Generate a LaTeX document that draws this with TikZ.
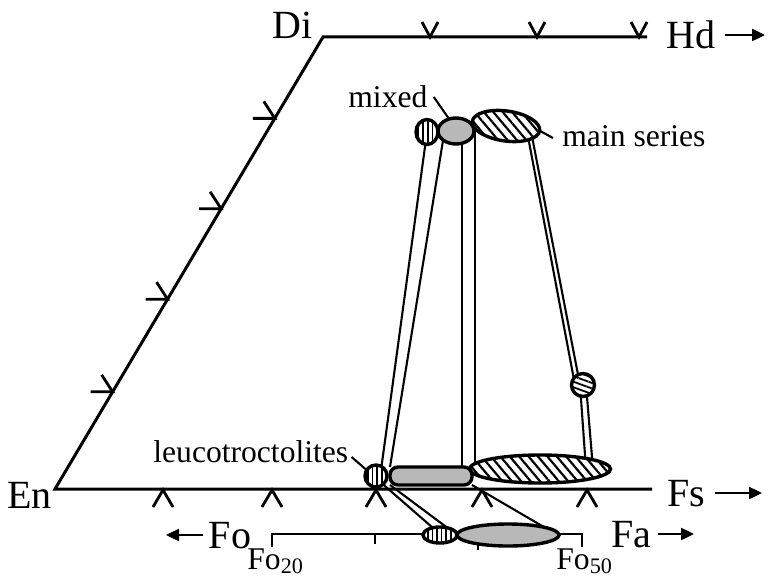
\documentclass[tikz,border=0pt]{standalone}
\usepackage{fontspec}
\setmainfont{Liberation Serif}
\usetikzlibrary{arrows.meta,patterns.meta,calc,shapes.geometric}
\pgfdeclarelayer{back}
\pgfsetlayers{back,main}
\begin{document}
\begin{tikzpicture}[x=0.5pt,y=-0.5pt,
  big/.style={font=\fontsize{20}{22}\selectfont, inner sep=0pt, text depth=0pt},
  lbl/.style={font=\fontsize{15.8}{18}\selectfont, inner sep=0pt},
  edge/.style={line width=1.5pt, line join=miter},
  tk/.style={line width=1.4pt, line join=miter, line cap=butt},
  tie/.style={line width=1.05pt},
  arr/.style={line width=1.2pt, -{Triangle[length=6.5pt,width=6pt]}},
  shp/.style={draw, line width=1.7pt, inner sep=0pt, outer sep=0pt, preaction={fill=white}},
  vst/.style={shp, ellipse, pattern={Lines[angle=90,distance=2.3pt,line width=0.8pt]}},
  hst/.style={shp, ellipse, pattern={Lines[angle=-20,distance=2.6pt,line width=0.9pt]}},
  hatch/.style={shp, ellipse, pattern={Lines[angle=-50,distance=3.6pt,line width=1.1pt]}},
  stip/.style={shp, fill=black!28},
]
\useasboundingbox (0,0) rectangle (770,577);

% frame
\coordinate (DiC) at (323,37);
\coordinate (HdE) at (647,37);
\coordinate (EnC) at (55,489);
\coordinate (FsE) at (652,489);
\draw[edge] (HdE) -- (DiC) -- (EnC) -- (FsE);

% ticks
\foreach \x in {430,537,639} \draw[tk] ({\x-8},22) -- (\x,37) -- ({\x+8},22);
\foreach \x in {163,272,376,482,587} \draw[tk] ({\x-10},507) -- (\x,490) -- ({\x+10},507);
\foreach \t in {0.18,0.38,0.58,0.785}
  \draw[tk] ($(DiC)!\t!(EnC)+(-22,0)$) -- ($(DiC)!\t!(EnC)$) -- ($(DiC)!\t!(EnC)+(-11,-17)$);

% labels
\node[big, anchor=east] (Di) at (313,25) {Di};
\node[big] (Hd) at (691,35) {Hd};
\node[big, anchor=east] (En) at (52,495) {En};
\node[big] (Fs) at (686,493) {Fs};
\node[big] (Fo) at (230,535) {Fo};
\node[big] (Fa) at (631,534) {Fa};
\node[lbl, anchor=base west] (Fo20) at (247,569) {Fo\textsubscript{20}};
\node[lbl, anchor=base west] (Fo50) at (556,569) {Fo\textsubscript{50}};
\coordinate (HdT) at (765,35);
\coordinate (FsT) at (762,493);
\coordinate (FaT) at (694,534);
\coordinate (FoT) at (166,535);
\draw[arr] ($(Hd.east)+(9,0)$) -- (HdT);
\draw[arr] ($(Fs.east)+(10,0)$) -- (FsT);
\draw[arr] ($(Fa.east)+(7,0)$) -- (FaT);
\draw[arr] ($(Fo.west)+(-5,0)$) -- (FoT);

\node[lbl, anchor=west] (mixed) at (348,97) {mixed};
\node[lbl, anchor=west] (ms) at (562,136) {main series};
\node[lbl, anchor=west] (leuco) at (153,452) {leucotroctolites};

% scale
\draw[line width=1.2pt] (272,547) -- (272,534) -- (582,534) -- (582,547);
\draw[tie] (375,534) -- (375,544);
\draw[tie] (478,534) -- (478,550);

% shapes
\node[vst, minimum width=11pt, minimum height=12.5pt] (ts) at (427,132) {};
\node[stip, ellipse, minimum width=18pt, minimum height=13pt] (tg) at (456,131) {};
\node[hatch, minimum width=34pt, minimum height=15pt, rotate=-8] (th) at (506,126) {};
\node[hst, minimum width=11.5pt, minimum height=11.5pt] (mc) at (583,385) {};
\node[hatch, minimum width=70.5pt, minimum height=14pt] (bh) at (540,469) {};
\node[stip, rounded corners=4pt, minimum width=41pt, minimum height=9pt] (bg) at (431,476) {};
\node[vst, minimum width=11pt, minimum height=11pt] (bs) at (376,476) {};
\node[vst, minimum width=17pt, minimum height=8pt] (ss) at (440,535) {};
\node[stip, ellipse, minimum width=51pt, minimum height=11pt] (sg) at (508,535) {};

\coordinate (xa) at (462,0);
\coordinate (xb) at (475,0);
\begin{pgfonlayer}{back}
\draw[tie] (ts.center) -- (bs.60);
\draw[tie] (tg.215) -- (bg.north west);
\draw[tie] (tg.center -| xa) -- (bg.center -| xa);
\draw[tie] (th.center -| xb) -- (bh.center -| xb);
\draw[tie] ($(th.center)+(20,0)$) -- ($(mc.center)+(-8,0)$);
\draw[tie] ($(th.center)+(24,0)$) -- ($(mc.center)+(-3,0)$);
\draw[tie] ($(mc.center)+(-3,0)$) -- ($(bh.center)+(46,0)$);
\draw[tie] ($(mc.center)+(3,0)$) -- ($(bh.center)+(53,0)$);
\draw[tie] ($(leuco.east)+(3,5)$) -- (ss.135);
\draw[tie] (bg.south west) -- (sg.west);
\draw[tie] (bg.south east) -- (sg.12);
\draw[tie] ($(mixed.east)+(6,0)$) -- (tg.120);
\draw[tie] (th.east) -- ($(ms.west)+(-9,2)$);
\end{pgfonlayer}
\end{tikzpicture}
\end{document}
